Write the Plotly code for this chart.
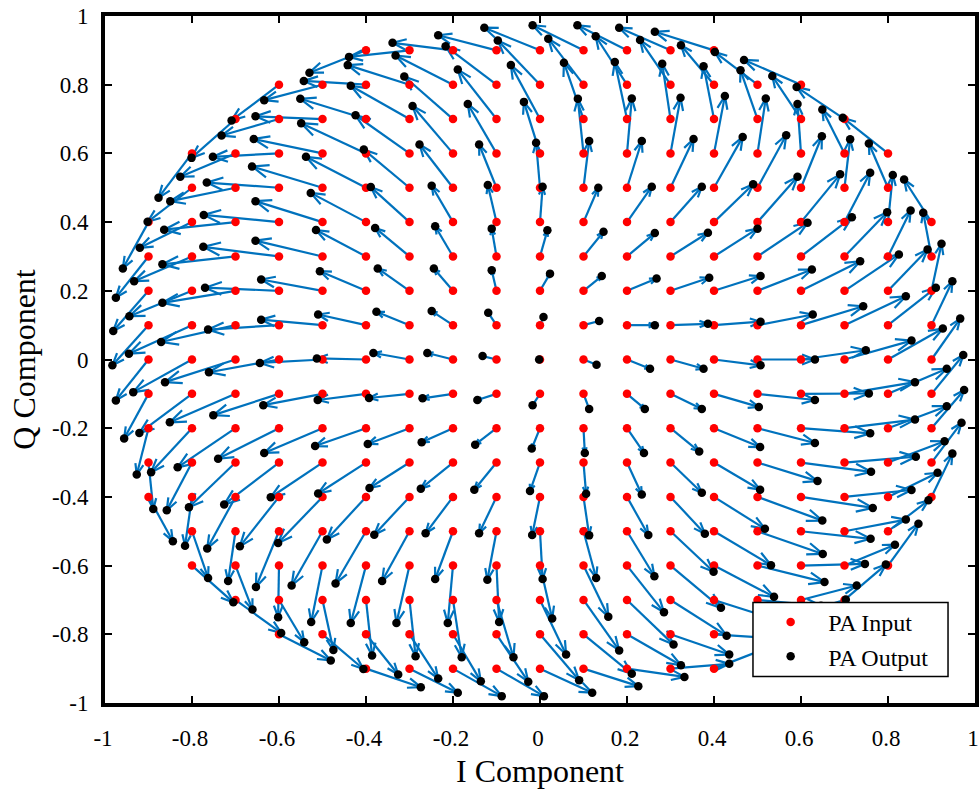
import math
import plotly.graph_objects as go

# ---------------- data ----------------
# Each row: input Q value, input I values, output I values, output Q values

row_q = [0.9, 0.8, 0.7, 0.6, 0.5, 0.4, 0.3, 0.2, 0.1, 0.0,
         -0.1, -0.2, -0.3, -0.4, -0.5, -0.6, -0.7, -0.8, -0.9]

in_i_p9 = [-0.4, -0.3, -0.2, -0.1, 0.0, 0.1, 0.2, 0.3, 0.4]
out_i_p9 = [-0.530, -0.439, -0.339, -0.234, -0.128, -0.017, 0.086, 0.182, 0.264]
out_q_p9 = [0.835, 0.881, 0.922, 0.944, 0.966, 0.973, 0.973, 0.966, 0.954]

in_i_p8 = [-0.6, -0.5, -0.4, -0.3, -0.2, -0.1, 0.0, 0.1, 0.2, 0.3, 0.4, 0.5, 0.6]
out_i_p8 = [-0.709, -0.634, -0.543, -0.442, -0.332, -0.217, -0.097, 0.019, 0.128, 0.230, 0.324, 0.402, 0.469]
out_q_p8 = [0.696, 0.755, 0.811, 0.857, 0.885, 0.912, 0.929, 0.934, 0.941, 0.930, 0.915, 0.895, 0.872]

in_i_p7 = [-0.7, -0.6, -0.5, -0.4, -0.3, -0.2, -0.1, 0.0, 0.1, 0.2, 0.3, 0.4, 0.5, 0.6, 0.7]
out_i_p7 = [-0.801, -0.732, -0.654, -0.551, -0.435, -0.312, -0.189, -0.067, 0.055, 0.172, 0.281, 0.376, 0.461, 0.534, 0.590]
out_q_p7 = [0.587, 0.652, 0.708, 0.759, 0.797, 0.824, 0.844, 0.857, 0.864, 0.866, 0.861, 0.854, 0.842, 0.825, 0.793]

in_i_p6 = [-0.8, -0.7, -0.6, -0.5, -0.4, -0.3, -0.2, -0.1, 0.0, 0.1, 0.2, 0.3, 0.4, 0.5, 0.6, 0.7, 0.8]
out_i_p6 = [-0.877, -0.827, -0.752, -0.658, -0.549, -0.424, -0.293, -0.166, -0.037, 0.087, 0.211, 0.323, 0.425, 0.519, 0.592, 0.649, 0.696]
out_q_p6 = [0.471, 0.532, 0.590, 0.642, 0.688, 0.711, 0.738, 0.744, 0.750, 0.759, 0.760, 0.762, 0.767, 0.760, 0.744, 0.728, 0.704]

in_i_p5 = [-0.8, -0.7, -0.6, -0.5, -0.4, -0.3, -0.2, -0.1, 0.0, 0.1, 0.2, 0.3, 0.4, 0.5, 0.6, 0.7, 0.8]
out_i_p5 = [-0.902, -0.850, -0.766, -0.662, -0.538, -0.405, -0.277, -0.140, -0.009, 0.113, 0.234, 0.353, 0.466, 0.566, 0.648, 0.713, 0.756]
out_q_p5 = [0.401, 0.461, 0.515, 0.562, 0.590, 0.611, 0.626, 0.626, 0.631, 0.636, 0.636, 0.642, 0.648, 0.653, 0.650, 0.641, 0.629]

in_i_p4 = [-0.9, -0.8, -0.7, -0.6, -0.5, -0.4, -0.3, -0.2, -0.1, 0.0, 0.1, 0.2, 0.3, 0.4, 0.5, 0.6, 0.7, 0.8, 0.9]
out_i_p4 = [-0.959, -0.920, -0.864, -0.773, -0.654, -0.527, -0.389, -0.249, -0.120, 0.006, 0.134, 0.257, 0.372, 0.490, 0.592, 0.690, 0.759, 0.811, 0.837]
out_q_p4 = [0.265, 0.325, 0.378, 0.421, 0.461, 0.485, 0.502, 0.506, 0.508, 0.503, 0.500, 0.503, 0.503, 0.510, 0.532, 0.539, 0.544, 0.537, 0.524]

in_i_p3 = [-0.9, -0.8, -0.7, -0.6, -0.5, -0.4, -0.3, -0.2, -0.1, 0.0, 0.1, 0.2, 0.3, 0.4, 0.5, 0.6, 0.7, 0.8, 0.9]
out_i_p3 = [-0.975, -0.933, -0.868, -0.774, -0.654, -0.515, -0.379, -0.241, -0.111, 0.017, 0.146, 0.264, 0.386, 0.500, 0.615, 0.717, 0.798, 0.852, 0.881]
out_q_p3 = [0.180, 0.228, 0.277, 0.328, 0.346, 0.377, 0.383, 0.388, 0.381, 0.376, 0.372, 0.368, 0.369, 0.381, 0.398, 0.414, 0.429, 0.434, 0.427]

in_i_p2 = [-0.9, -0.8, -0.7, -0.6, -0.5, -0.4, -0.3, -0.2, -0.1, 0.0, 0.1, 0.2, 0.3, 0.4, 0.5, 0.6, 0.7, 0.8, 0.9]
out_i_p2 = [-0.981, -0.944, -0.868, -0.770, -0.641, -0.506, -0.373, -0.244, -0.111, 0.023, 0.142, 0.268, 0.389, 0.507, 0.625, 0.736, 0.825, 0.891, 0.923]
out_q_p2 = [0.083, 0.126, 0.165, 0.209, 0.233, 0.257, 0.265, 0.265, 0.260, 0.250, 0.243, 0.236, 0.238, 0.243, 0.262, 0.286, 0.306, 0.320, 0.337]

in_i_p1 = [-0.9, -0.8, -0.7, -0.6, -0.5, -0.4, -0.3, -0.2, -0.1, 0.0, 0.1, 0.2, 0.3, 0.4, 0.5, 0.6, 0.7, 0.8, 0.9]
out_i_p1 = [-0.983, -0.945, -0.871, -0.763, -0.641, -0.510, -0.376, -0.249, -0.119, 0.008, 0.136, 0.264, 0.386, 0.507, 0.627, 0.743, 0.841, 0.910, 0.948]
out_q_p1 = [-0.017, 0.017, 0.051, 0.087, 0.116, 0.131, 0.139, 0.141, 0.136, 0.124, 0.112, 0.100, 0.104, 0.110, 0.131, 0.155, 0.184, 0.209, 0.228]

in_i_0 = [-0.9, -0.8, -0.7, -0.6, -0.5, -0.4, -0.3, -0.2, -0.1, 0.0, 0.1, 0.2, 0.3, 0.4, 0.5, 0.6, 0.7, 0.8, 0.9]
out_i_0 = [-0.975, -0.935, -0.862, -0.761, -0.644, -0.513, -0.383, -0.259, -0.132, -0.002, 0.130, 0.253, 0.376, 0.507, 0.632, 0.749, 0.854, 0.926, 0.966]
out_q_0 = [-0.119, -0.095, -0.066, -0.037, -0.010, 0.003, 0.019, 0.019, 0.010, 0.000, -0.015, -0.027, -0.027, -0.017, 0.000, 0.027, 0.055, 0.090, 0.119]

in_i_m1 = [-0.9, -0.8, -0.7, -0.6, -0.5, -0.4, -0.3, -0.2, -0.1, 0.0, 0.1, 0.2, 0.3, 0.4, 0.5, 0.6, 0.7, 0.8, 0.9]
out_i_m1 = [-0.956, -0.921, -0.851, -0.751, -0.636, -0.511, -0.393, -0.270, -0.144, -0.017, 0.113, 0.241, 0.372, 0.503, 0.632, 0.756, 0.862, 0.935, 0.973]
out_q_m1 = [-0.230, -0.214, -0.183, -0.162, -0.133, -0.118, -0.112, -0.113, -0.118, -0.133, -0.144, -0.144, -0.144, -0.138, -0.118, -0.099, -0.066, -0.027, 0.013]

in_i_m2 = [-0.9, -0.8, -0.7, -0.6, -0.5, -0.4, -0.3, -0.2, -0.1, 0.0, 0.1, 0.2, 0.3, 0.4, 0.5, 0.6, 0.7, 0.8, 0.9]
out_i_m2 = [-0.927, -0.894, -0.833, -0.740, -0.634, -0.517, -0.396, -0.272, -0.149, -0.019, 0.103, 0.239, 0.366, 0.506, 0.632, 0.759, 0.862, 0.935, 0.975]
out_q_m2 = [-0.335, -0.328, -0.314, -0.289, -0.272, -0.252, -0.246, -0.241, -0.248, -0.259, -0.272, -0.272, -0.268, -0.255, -0.243, -0.215, -0.175, -0.136, -0.089]

in_i_m3 = [-0.9, -0.8, -0.7, -0.6, -0.5, -0.4, -0.3, -0.2, -0.1, 0.0, 0.1, 0.2, 0.3, 0.4, 0.5, 0.6, 0.7, 0.8, 0.9]
out_i_m3 = [-0.889, -0.858, -0.807, -0.726, -0.619, -0.510, -0.392, -0.274, -0.151, -0.023, 0.106, 0.234, 0.372, 0.506, 0.638, 0.761, 0.864, 0.930, 0.969]
out_q_m3 = [-0.435, -0.439, -0.430, -0.422, -0.401, -0.390, -0.374, -0.376, -0.379, -0.383, -0.391, -0.393, -0.388, -0.379, -0.354, -0.327, -0.283, -0.238, -0.184]

in_i_m4 = [-0.9, -0.8, -0.7, -0.6, -0.5, -0.4, -0.3, -0.2, -0.1, 0.0, 0.1, 0.2, 0.3, 0.4, 0.5, 0.6, 0.7, 0.8, 0.9]
out_i_m4 = [-0.844, -0.816, -0.765, -0.690, -0.602, -0.490, -0.381, -0.263, -0.140, -0.018, 0.113, 0.249, 0.379, 0.517, 0.649, 0.765, 0.854, 0.914, 0.948]
out_q_m4 = [-0.529, -0.542, -0.550, -0.544, -0.534, -0.524, -0.510, -0.506, -0.506, -0.511, -0.512, -0.511, -0.507, -0.493, -0.469, -0.432, -0.380, -0.330, -0.274]

in_i_m5 = [-0.8, -0.7, -0.6, -0.5, -0.4, -0.3, -0.2, -0.1, 0.0, 0.1, 0.2, 0.3, 0.4, 0.5, 0.6, 0.7, 0.8]
out_i_m5 = [-0.763, -0.717, -0.653, -0.571, -0.470, -0.363, -0.241, -0.121, 0.006, 0.129, 0.263, 0.399, 0.531, 0.650, 0.760, 0.841, 0.893]
out_q_m5 = [-0.636, -0.645, -0.662, -0.658, -0.652, -0.645, -0.639, -0.641, -0.639, -0.636, -0.631, -0.618, -0.599, -0.566, -0.522, -0.466, -0.410]

in_i_m6 = [-0.8, -0.7, -0.6, -0.5, -0.4, -0.3, -0.2, -0.1, 0.0, 0.1, 0.2, 0.3, 0.4, 0.5, 0.6, 0.7, 0.8]
out_i_m6 = [-0.705, -0.661, -0.602, -0.526, -0.435, -0.330, -0.212, -0.094, 0.028, 0.157, 0.285, 0.416, 0.538, 0.654, 0.747, 0.816, 0.870]
out_q_m6 = [-0.707, -0.728, -0.750, -0.764, -0.767, -0.767, -0.767, -0.764, -0.754, -0.749, -0.736, -0.723, -0.691, -0.648, -0.595, -0.539, -0.478]

in_i_m7 = [-0.7, -0.6, -0.5, -0.4, -0.3, -0.2, -0.1, 0.0, 0.1, 0.2, 0.3, 0.4, 0.5, 0.6, 0.7]
out_i_m7 = [-0.595, -0.542, -0.475, -0.386, -0.286, -0.180, -0.061, 0.060, 0.182, 0.307, 0.429, 0.546, 0.646, 0.728, 0.795]
out_q_m7 = [-0.796, -0.823, -0.846, -0.862, -0.864, -0.867, -0.867, -0.859, -0.847, -0.830, -0.804, -0.759, -0.717, -0.658, -0.597]

in_i_m8 = [-0.6, -0.5, -0.4, -0.3, -0.2, -0.1, 0.0, 0.1, 0.2, 0.3, 0.4, 0.5, 0.6]
out_i_m8 = [-0.481, -0.406, -0.326, -0.234, -0.136, -0.027, 0.090, 0.211, 0.324, 0.435, 0.539, 0.626, 0.703]
out_q_m8 = [-0.876, -0.901, -0.917, -0.929, -0.937, -0.938, -0.934, -0.915, -0.890, -0.859, -0.812, -0.754, -0.699]

in_i_m9 = [-0.4, -0.3, -0.2, -0.1, 0.0, 0.1, 0.2, 0.3, 0.4]
out_i_m9 = [-0.274, -0.189, -0.088, 0.009, 0.120, 0.226, 0.332, 0.435, 0.532]
out_q_m9 = [-0.954, -0.970, -0.980, -0.980, -0.970, -0.951, -0.924, -0.886, -0.835]

rows_in_i = [in_i_p9, in_i_p8, in_i_p7, in_i_p6, in_i_p5, in_i_p4, in_i_p3, in_i_p2, in_i_p1, in_i_0,
             in_i_m1, in_i_m2, in_i_m3, in_i_m4, in_i_m5, in_i_m6, in_i_m7, in_i_m8, in_i_m9]
rows_out_i = [out_i_p9, out_i_p8, out_i_p7, out_i_p6, out_i_p5, out_i_p4, out_i_p3, out_i_p2, out_i_p1, out_i_0,
              out_i_m1, out_i_m2, out_i_m3, out_i_m4, out_i_m5, out_i_m6, out_i_m7, out_i_m8, out_i_m9]
rows_out_q = [out_q_p9, out_q_p8, out_q_p7, out_q_p6, out_q_p5, out_q_p4, out_q_p3, out_q_p2, out_q_p1, out_q_0,
              out_q_m1, out_q_m2, out_q_m3, out_q_m4, out_q_m5, out_q_m6, out_q_m7, out_q_m8, out_q_m9]

tick_vals = [-1, -0.8, -0.6, -0.4, -0.2, 0, 0.2, 0.4, 0.6, 0.8, 1]
tick_text = ["-1", "-0.8", "-0.6", "-0.4", "-0.2", "0", "0.2", "0.4", "0.6", "0.8", "1"]

# ---------------- build flat point lists ----------------
in_x, in_y, out_x, out_y = [], [], [], []
for q, xs, oxs, oys in zip(row_q, rows_in_i, rows_out_i, rows_out_q):
    for x0, x1, y1 in zip(xs, oxs, oys):
        in_x.append(x0)
        in_y.append(q)
        out_x.append(x1)
        out_y.append(y1)

# ---------------- quiver arrows (shaft + open head) ----------------
SX, SY = 435.0, 343.5      # px per data unit (shapes the arrow heads)
HEAD_FRAC = 0.24
HEAD_ANG = math.radians(21)
ca, sa = math.cos(HEAD_ANG), math.sin(HEAD_ANG)

arr_x, arr_y = [], []
for x0, y0, x1, y1 in zip(in_x, in_y, out_x, out_y):
    dx, dy = (x1 - x0) * SX, (y1 - y0) * SY
    L = math.hypot(dx, dy)
    arr_x += [x0, x1, None]
    arr_y += [y0, y1, None]
    if L > 0:
        ux, uy = -dx / L, -dy / L
        h = HEAD_FRAC * L
        r1x, r1y = ux * ca - uy * sa, ux * sa + uy * ca
        r2x, r2y = ux * ca + uy * sa, -ux * sa + uy * ca
        arr_x += [x1 + h * r1x / SX, x1, x1 + h * r2x / SX, None]
        arr_y += [y1 + h * r1y / SY, y1, y1 + h * r2y / SY, None]

BLUE = "#0072BD"
FONT = "Liberation Serif"

fig = go.Figure()
fig.add_trace(go.Scatter(x=arr_x, y=arr_y, mode="lines",
                         line=dict(color=BLUE, width=2.2),
                         hoverinfo="skip", showlegend=False))
fig.add_trace(go.Scatter(x=in_x, y=in_y, mode="markers", name="PA Input",
                         marker=dict(color="#FF0000", size=8.5, line=dict(width=0))))
fig.add_trace(go.Scatter(x=out_x, y=out_y, mode="markers", name="PA Output",
                         marker=dict(color="#000000", size=8.5, line=dict(width=0))))

axis_common = dict(
    range=[-1, 1], tickmode="array", tickvals=tick_vals, ticktext=tick_text,
    ticks="inside", ticklen=7, tickwidth=2, tickcolor="black",
    showline=True, linewidth=4, linecolor="black", mirror="ticks",
    showgrid=False, zeroline=False, automargin=False,
    ticklabeloverflow="allow",
    tickfont=dict(family=FONT, size=23, color="black"),
)

# legend frame (drawn as a shape so its size matches the reference box)
fig.add_shape(type="rect", xref="paper", yref="paper",
              x0=0.7448, x1=0.969, y0=0.0386, y1=0.1463,
              fillcolor="white", line=dict(color="black", width=1.5), layer="above")

fig.update_layout(
    width=979, height=791,
    margin=dict(l=105, r=4, t=16, b=88),
    paper_bgcolor="white", plot_bgcolor="white",
    font=dict(family=FONT, color="black"),
    xaxis=dict(**axis_common, ticklabelstandoff=11, ticklabelshift=-2,
               title=dict(text="I Component", font=dict(family=FONT, size=32), standoff=11)),
    yaxis=dict(**axis_common, ticklabelstandoff=8,
               title=dict(text="Q Component", font=dict(family=FONT, size=32), standoff=8)),
    legend=dict(x=0.745, y=0.150, xanchor="left", yanchor="top",
                bgcolor="rgba(0,0,0,0)", bordercolor="rgba(0,0,0,0)", borderwidth=0,
                font=dict(family=FONT, size=24, color="black"),
                itemwidth=65, tracegroupgap=0),
    showlegend=True,
)

# place the figure at the page origin (no default body margin / scrollbars)
fig.write_html("out.html",
               config={"displayModeBar": False},
               post_script="document.body.style.margin='0px';"
                           "document.body.style.overflow='hidden';")
